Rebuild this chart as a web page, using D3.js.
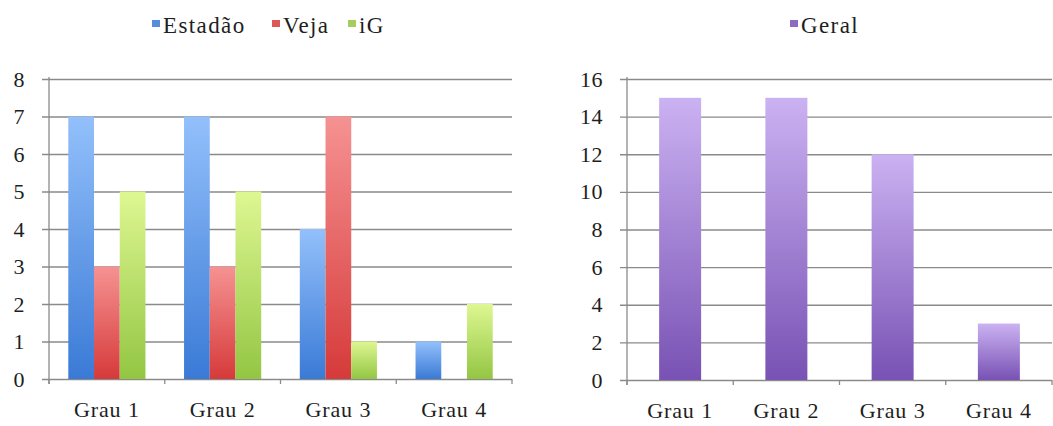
<!DOCTYPE html>
<html>
<head>
<meta charset="utf-8">
<script src="https://cdn.jsdelivr.net/npm/d3@7"></script>
<style>
  html, body { margin: 0; padding: 0; background: #fff; }
  svg { display: block; }
  text { font-family: "Liberation Serif", "DejaVu Serif", serif; fill: #1e1e1e; }
</style>
</head>
<body>
<svg id="chart" width="1053" height="426"></svg>
<script>
// Categories and values
const categories = ["Grau 1", "Grau 2", "Grau 3", "Grau 4"];
const seriesNames = ["Estadão", "Veja", "iG"];
const estadao = [7, 7, 4, 1];
const veja = [3, 3, 7, 0];
const ig = [5, 5, 1, 2];
const geralName = "Geral";
const geral = [15, 15, 12, 3];
const leftTicks = [0, 1, 2, 3, 4, 5, 6, 7, 8];
const rightTicks = [0, 2, 4, 6, 8, 10, 12, 14, 16];

const FONT = '"Liberation Serif", "DejaVu Serif", serif';

const svg = d3.select("#chart");
const defs = svg.append("defs");

// Vertical gradients: light on top, darker at the base
const palettes = {
  blue:   ["#93c0fb", "#3a7ad6"],
  red:    ["#f69292", "#d63a3a"],
  green:  ["#def792", "#93c643"],
  purple: ["#cbb2f2", "#7852b4"]
};
Object.entries(palettes).forEach(([key, [top, bottom]]) => {
  const g = defs.append("linearGradient")
    .attr("id", "grad-" + key)
    .attr("x1", 0).attr("y1", 0).attr("x2", 0).attr("y2", 1);
  g.append("stop").attr("offset", "0%").attr("stop-color", top);
  g.append("stop").attr("offset", "100%").attr("stop-color", bottom);
});

const gridColor = "#8a8a8a";

function styleLabel(sel, size, spacing) {
  sel.style("font-family", FONT)
    .style("font-size", size + "px")
    .style("letter-spacing", spacing + "px")
    .attr("fill", "#1e1e1e");
}

function drawPanel(cfg) {
  const { left, right, top, bottom, maxY, ticks, series, innerPad } = cfg;
  const g = svg.append("g");

  const x = d3.scaleBand().domain(categories).range([left, right]).paddingInner(0).paddingOuter(0);
  const xs = d3.scaleBand().domain(series.map(s => s.name)).range([0, x.bandwidth()])
    .paddingInner(0).paddingOuter(innerPad);
  const y = d3.scaleLinear().domain([0, maxY]).range([bottom, top]);

  // Horizontal gridlines with short ticks left of the axis
  const yAxis = d3.axisLeft(y).tickValues(ticks).tickSize(0).tickPadding(17);
  const ya = g.append("g").attr("transform", `translate(${left - 7},0)`);
  ya.call(yAxis);
  ya.select(".domain").remove();
  ya.selectAll(".tick line")
    .attr("x1", 0).attr("x2", right - left + 7)
    .attr("stroke", gridColor).attr("stroke-width", 1.3);
  ya.selectAll(".tick text")
    .attr("x", -17)
    .attr("dy", null)
    .attr("y", 7);
  styleLabel(ya.selectAll(".tick text"), 22, 0.5);

  // Vertical axis line
  g.append("line")
    .attr("x1", left).attr("x2", left)
    .attr("y1", top - 2).attr("y2", bottom + 5)
    .attr("stroke", gridColor).attr("stroke-width", 1.3);

  // Category axis with ticks at band boundaries
  const xa = g.append("g").attr("transform", `translate(0,${bottom})`);
  xa.call(d3.axisBottom(x).tickSize(0).tickPadding(0));
  xa.select(".domain").remove();
  xa.selectAll(".tick text").attr("y", 38).attr("dy", null);
  styleLabel(xa.selectAll(".tick text"), 22, 0.9);
  const bounds = categories.map(c => x(c)).concat([x(categories[categories.length - 1]) + x.bandwidth()]);
  xa.selectAll(".bound").data(bounds).enter().append("line")
    .attr("x1", d => d).attr("x2", d => d)
    .attr("y1", 0).attr("y2", 5)
    .attr("stroke", gridColor).attr("stroke-width", 1.3);

  // Bars
  series.forEach(s => {
    g.append("g").selectAll("rect")
      .data(s.values.map((v, i) => ({ cat: categories[i], v })))
      .enter().filter(d => d.v > 0).append("rect")
      .attr("x", d => x(d.cat) + xs(s.name))
      .attr("width", xs.bandwidth())
      .attr("y", d => y(d.v))
      .attr("height", d => y(0) - y(d.v))
      .attr("fill", `url(#grad-${s.color})`);
  });
}

drawPanel({
  left: 49, right: 512, top: 79, bottom: 379, maxY: 8, ticks: leftTicks, innerPad: 0.75,
  series: [
    { name: seriesNames[0], values: estadao, color: "blue" },
    { name: seriesNames[1], values: veja, color: "red" },
    { name: seriesNames[2], values: ig, color: "green" }
  ]
});

drawPanel({
  left: 627, right: 1052, top: 79, bottom: 380, maxY: 16, ticks: rightTicks, innerPad: 0.765,
  series: [{ name: geralName, values: geral, color: "purple" }]
});

// Legends
const legendItems = [
  { label: seriesNames[0], color: "blue", x: 152 },
  { label: seriesNames[1], color: "red", x: 272 },
  { label: seriesNames[2], color: "green", x: 348 },
  { label: geralName, color: "purple", x: 790 }
];
const lg = svg.append("g");
legendItems.forEach(item => {
  lg.append("rect")
    .attr("x", item.x).attr("y", 20)
    .attr("width", 8).attr("height", 7)
    .attr("fill", palettes[item.color][1])
    .attr("opacity", 0.85);
  const t = lg.append("text")
    .attr("x", item.x + 11).attr("y", 33)
    .text(item.label);
  styleLabel(t, 23, 1.4);
});
</script>
</body>
</html>
